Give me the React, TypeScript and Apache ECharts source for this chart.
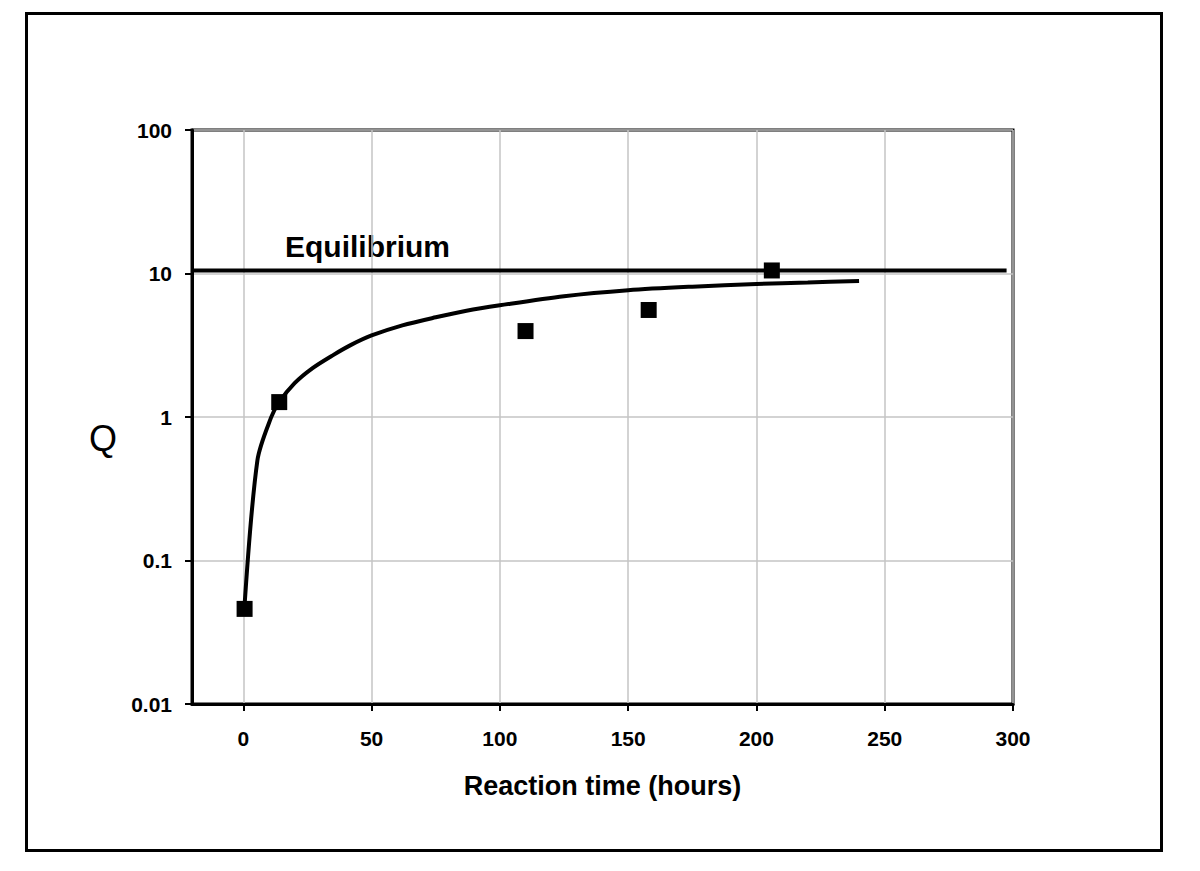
import React, { useEffect, useRef } from "react";
import * as echarts from "echarts";

// Measured data points (reaction time in hours, Q)
const measuredTime = [0.5, 14, 110, 158, 206];
const measuredQ = [0.046, 1.27, 3.97, 5.57, 10.5];

// Fitted model curve
const curveTime = [0.4, 5.5, 10.8, 14, 20, 27, 35, 42, 50, 62, 75, 87, 100, 125, 150, 175, 200, 220, 240];
const curveQ = [0.046, 0.5, 0.99, 1.27, 1.72, 2.19, 2.7, 3.18, 3.7, 4.35, 4.95, 5.5, 6.0, 6.95, 7.65, 8.1, 8.45, 8.65, 8.87];

// Equilibrium line
const equilibriumTime = [-20, 297.5];
const equilibriumQ = [10.5, 10.5];

const xTicks = [0, 50, 100, 150, 200, 250, 300];

const FONT = "'Liberation Sans', Arial, Helvetica, sans-serif";

export default function App() {
  const ref = useRef<HTMLDivElement>(null);

  useEffect(() => {
    document.body.style.margin = "0";
    const chart = echarts.init(ref.current!, null, { renderer: "svg" });
    chart.setOption({
      animation: false,
      backgroundColor: "#ffffff",
      grid: {
        left: 192,
        top: 130,
        right: 187,
        bottom: 167,
        show: true,
        borderColor: "#000",
        borderWidth: 3,
        backgroundColor: "transparent",
      },
      xAxis: {
        type: "value",
        min: -20,
        max: 300,
        interval: 50,
        name: "Reaction time (hours)",
        nameLocation: "middle",
        nameGap: 68,
        nameTextStyle: { fontFamily: FONT, fontWeight: "bold", fontSize: 27, color: "#000" },
        axisLine: { show: true, onZero: false, lineStyle: { color: "#000", width: 3 } },
        axisTick: { show: true, length: 7, lineStyle: { color: "#000", width: 2 }, customValues: xTicks },
        axisLabel: {
          margin: 24,
          fontFamily: FONT,
          fontWeight: "bold",
          fontSize: 21,
          color: "#000",
          customValues: xTicks,
          formatter: (v: number) => (v < 0 ? "" : String(v)),
        },
        splitLine: { show: true, lineStyle: { color: "#c4c4c4", width: 1.5 } },
      },
      yAxis: {
        type: "log",
        logBase: 10,
        min: 0.01,
        max: 100,
        axisLine: { show: true, onZero: false, lineStyle: { color: "#000", width: 3 } },
        axisTick: { show: true, length: 7, lineStyle: { color: "#000", width: 2 } },
        minorTick: { show: false },
        axisLabel: {
          margin: 20,
          fontFamily: FONT,
          fontWeight: "bold",
          fontSize: 21,
          color: "#000",
          formatter: (v: number) => String(Number(v.toPrecision(6))),
        },
        splitLine: { show: true, lineStyle: { color: "#c4c4c4", width: 1.5 } },
      },
      series: [
        {
          name: "Equilibrium",
          type: "line",
          data: equilibriumTime.map((t, i) => [t, equilibriumQ[i]]),
          symbol: "none",
          lineStyle: { color: "#000", width: 4 },
          z: 3,
        },
        {
          name: "Model",
          type: "line",
          data: curveTime.map((t, i) => [t, curveQ[i]]),
          symbol: "none",
          smooth: 0.3,
          lineStyle: { color: "#000", width: 4 },
          z: 4,
        },
        {
          name: "Measured",
          type: "scatter",
          data: measuredTime.map((t, i) => [t, measuredQ[i]]),
          symbol: "rect",
          symbolSize: 16,
          itemStyle: { color: "#000", opacity: 1 },
          z: 5,
        },
      ],
      graphic: [
        {
          type: "rect",
          shape: { x: 26.5, y: 13.5, width: 1135, height: 837 },
          style: { fill: "none", stroke: "#000", lineWidth: 3 },
          silent: true,
        },
        {
          type: "text",
          left: 285,
          top: 231,
          style: { text: "Equilibrium", font: `bold 30px ${FONT}`, fill: "#000" },
        },
        {
          type: "text",
          left: 89,
          top: 420,
          style: { text: "Q", font: `36px ${FONT}`, fill: "#000" },
        },
      ],
    });
    return () => chart.dispose();
  }, []);

  return (
    <div
      ref={ref}
      style={{ position: "fixed", left: 0, top: 0, width: 1200, height: 871 }}
    />
  );
}
